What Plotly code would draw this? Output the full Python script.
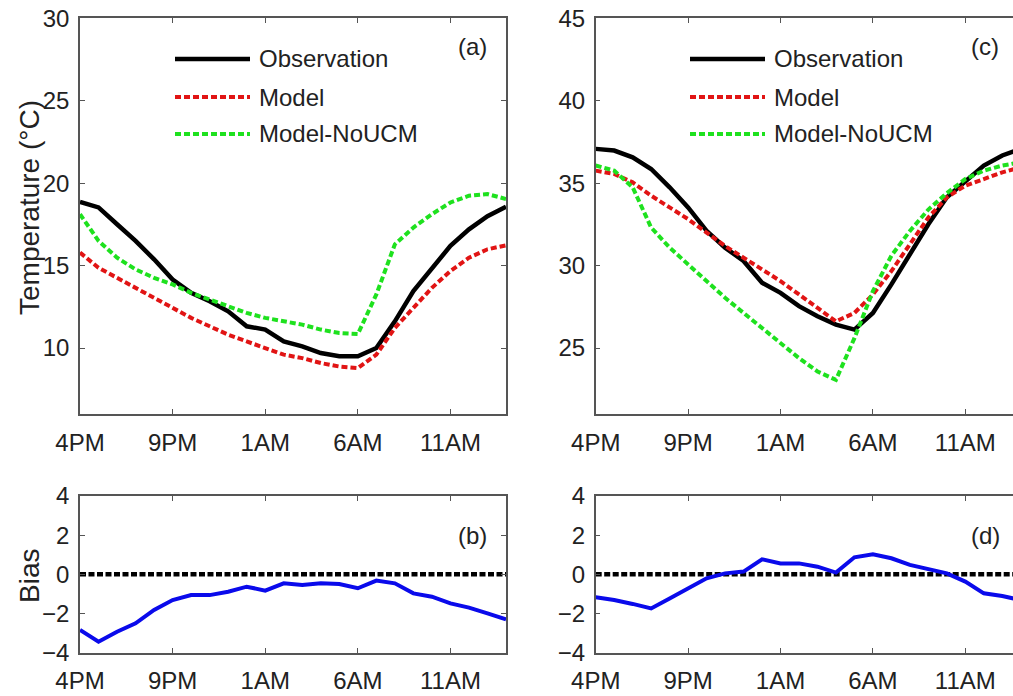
import plotly.graph_objects as go

# ---------------- data ----------------
hours = list(range(1, 25))
tick_vals = [1, 6, 11, 16, 21]
tick_text = ["4PM", "9PM", "1AM", "6AM", "11AM"]

obs_a = [18.87, 18.53, 17.51, 16.5, 15.38, 14.16, 13.35, 12.84, 12.23, 11.32, 11.12, 10.4,
         10.1, 9.7, 9.5, 9.5, 10.0, 11.62, 13.45, 14.87, 16.2, 17.2, 18.0, 18.57]
model_a = [15.79, 14.87, 14.26, 13.65, 13.05, 12.44, 11.83, 11.32, 10.81, 10.4, 10.0, 9.6,
           9.39, 9.09, 8.88, 8.78, 9.6, 11.22, 12.44, 13.65, 14.67, 15.48, 15.99, 16.23]
noucm_a = [18.12, 16.5, 15.48, 14.77, 14.26, 13.86, 13.35, 12.94, 12.54, 12.13, 11.83, 11.62,
           11.42, 11.12, 10.91, 10.85, 13.25, 16.29, 17.31, 18.12, 18.83, 19.24, 19.34, 19.04]
bias_b = [-2.84, -3.44, -2.93, -2.5, -1.82, -1.31, -1.06, -1.06, -0.89, -0.63, -0.83, -0.46,
          -0.54, -0.46, -0.49, -0.71, -0.32, -0.46, -0.97, -1.14, -1.48, -1.70, -1.99, -2.30]

obs_c = [37.08, 36.98, 36.57, 35.86, 34.75, 33.53, 32.11, 31.09, 30.28, 28.96, 28.35, 27.54,
         26.93, 26.42, 26.12, 27.13, 28.86, 30.69, 32.51, 34.14, 35.15, 36.07, 36.68, 37.08]
model_c = [35.76, 35.56, 35.05, 34.24, 33.53, 32.82, 32.0, 31.19, 30.48, 29.77, 29.06, 28.25,
           27.44, 26.62, 27.13, 28.25, 29.67, 31.29, 32.92, 34.14, 34.85, 35.25, 35.66, 35.96]
noucm_c = [36.07, 35.76, 34.75, 32.31, 31.09, 30.08, 29.06, 28.05, 27.13, 26.22, 25.3, 24.39,
           23.58, 23.07, 25.6, 28.45, 30.6, 32.1, 33.4, 34.4, 35.25, 35.76, 36.07, 36.27]
bias_d = [-1.17, -1.31, -1.51, -1.74, -1.23, -0.71, -0.2, 0.05, 0.14, 0.77, 0.56, 0.56,
          0.39, 0.09, 0.87, 1.02, 0.82, 0.48, 0.26, 0.05, -0.37, -0.97, -1.11, -1.31]
zero_line = [0] * 24

legend_names = ["Observation", "Model", "Model-NoUCM"]

# ---------------- styles ----------------
FONT = "Liberation Sans, Arial, sans-serif"
FS = 24
FS_T = 28
TXT = "#222222"
C_OBS = "black"
C_MOD = "rgb(225,20,20)"
C_NOU = "rgb(30,225,30)"
C_BIAS = "rgb(10,10,235)"
DASH = "6px,3px"
W = 4
styles = [dict(color=C_OBS, width=4.5, dash="solid"),
          dict(color=C_MOD, width=W, dash=DASH),
          dict(color=C_NOU, width=W, dash=DASH)]

fig = go.Figure()

def add(x, y, line, xa, ya, name):
    fig.add_trace(go.Scatter(x=x, y=y, mode="lines", line=line, name=name,
                             xaxis=xa, yaxis=ya, showlegend=False))

# panel (a)
for ys, st, nm in zip([obs_a, model_a, noucm_a], styles, legend_names):
    add(hours, ys, st, "x", "y", nm)
# panel (c)
for ys, st, nm in zip([obs_c, model_c, noucm_c], styles, legend_names):
    add(hours, ys, st, "x2", "y2", nm)
# panel (b)
add(hours, zero_line, dict(color="black", width=4.5, dash="6px,2.5px"), "x3", "y3", "zero")
add(hours, bias_b, dict(color=C_BIAS, width=4), "x3", "y3", "Bias")
# panel (d)
add(hours, zero_line, dict(color="black", width=4.5, dash="6px,2.5px"), "x4", "y4", "zero")
add(hours, bias_d, dict(color=C_BIAS, width=4), "x4", "y4", "Bias")

PW, PH = 1013, 696
def px_x(p):
    return p / PW
def px_y(p):
    return 1 - p / PH

left_dom = [px_x(80), px_x(506)]
right_dom = [px_x(595.7), 1.0]
top_dom = [px_y(414), px_y(18.3)]
bot_dom = [px_y(652.7), px_y(496)]

AX_COLOR = "#555555"
common_x = dict(tickmode="array", tickvals=tick_vals, ticktext=tick_text, ticks="inside",
                ticklen=5, tickcolor=AX_COLOR, showline=True, linecolor=AX_COLOR, linewidth=1.5,
                showgrid=False, zeroline=False, mirror="allticks", automargin=False,
                ticklabelstandoff=6,
                tickfont=dict(family=FONT, size=FS, color=TXT))
common_y = dict(ticks="inside", ticklen=5, tickcolor=AX_COLOR, showline=True, linecolor=AX_COLOR,
                linewidth=1.5, showgrid=False, zeroline=False, automargin=False,
                ticklabelstandoff=4,
                tickfont=dict(family=FONT, size=FS, color=TXT))

fig.update_layout(
    width=PW, height=PH, margin=dict(l=0, r=0, t=0, b=0, autoexpand=False),
    paper_bgcolor="white", plot_bgcolor="white",
    xaxis=dict(domain=left_dom, range=[1, 24], anchor="y", **common_x),
    yaxis=dict(domain=top_dom, range=[6, 30], tickvals=[10, 15, 20, 25, 30], anchor="x",
               mirror="allticks", **common_y),
    xaxis2=dict(domain=right_dom, range=[1, 23.58], anchor="y2", **common_x),
    yaxis2=dict(domain=top_dom, range=[21, 45], tickvals=[25, 30, 35, 40, 45], anchor="x2",
                mirror=False, **common_y),
    xaxis3=dict(domain=left_dom, range=[1, 24], anchor="y3", **common_x),
    yaxis3=dict(domain=bot_dom, range=[-4, 4], tickvals=[-4, -2, 0, 2, 4], anchor="x3",
                mirror="allticks", **common_y),
    xaxis4=dict(domain=right_dom, range=[1, 23.58], anchor="y4", **common_x),
    yaxis4=dict(domain=bot_dom, range=[-4, 4], tickvals=[-4, -2, 0, 2, 4], anchor="x4",
                mirror=False, **common_y),
    showlegend=False,
)

annots = []
shapes = []
# legends drawn inside panels (a) and (c)
legend_rows_y = [59, 97, 134]
for x0, x1, xt in [(175, 250, 257), (690, 765, 772)]:
    for nm, st, yy in zip(legend_names, styles, legend_rows_y):
        shapes.append(dict(type="line", xref="paper", yref="paper",
                           x0=px_x(x0), x1=px_x(x1), y0=px_y(yy), y1=px_y(yy),
                           line=dict(color=st["color"], width=st["width"], dash=st["dash"])))
        annots.append(dict(text=nm, xref="paper", yref="paper", x=px_x(xt), y=px_y(yy),
                           xanchor="left", yanchor="middle", showarrow=False,
                           font=dict(family=FONT, size=FS, color=TXT)))

# panel letters
for lab, xx, yy in [("(a)", 472, 46), ("(c)", 985, 46), ("(b)", 472, 535), ("(d)", 985, 535)]:
    annots.append(dict(text=lab, xref="paper", yref="paper", x=px_x(xx), y=px_y(yy),
                       xanchor="center", yanchor="middle", showarrow=False,
                       font=dict(family=FONT, size=FS, color=TXT)))

# y-axis titles
annots.append(dict(text="Temperature (\u00b0C)", xref="paper", yref="paper", x=px_x(29), y=px_y(208),
                   xanchor="center", yanchor="middle", textangle=-90, showarrow=False,
                   font=dict(family=FONT, size=FS_T, color=TXT)))
annots.append(dict(text="Bias", xref="paper", yref="paper", x=px_x(29), y=px_y(576),
                   xanchor="center", yanchor="middle", textangle=-90, showarrow=False,
                   font=dict(family=FONT, size=FS_T, color=TXT)))

fig.update_layout(annotations=annots, shapes=shapes)
fig.write_html("out.html")
